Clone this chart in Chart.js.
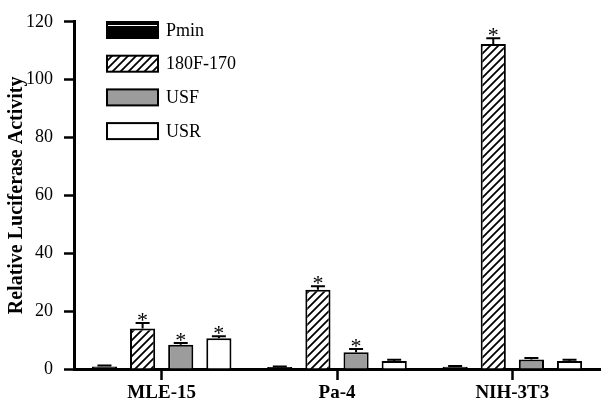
<!DOCTYPE html>
<html>
<head>
<meta charset="utf-8">
<script src="https://cdn.jsdelivr.net/npm/chart.js@4.4.1/dist/chart.umd.min.js"></script>
<style>
  html, body { margin: 0; padding: 0; background: #fff; }
  #wrap { width: 610px; height: 409px; position: relative; }
</style>
</head>
<body>
<div id="wrap"><canvas id="myChart"></canvas></div>
<script>
// Data
const categories = ['MLE-15', 'Pa-4', 'NIH-3T3'];
const seriesNames = ['Pmin', '180F-170', 'USF', 'USR'];

const pminValues = [0.9, 0.7, 0.8];
const pminErrors = [0.3, 0.2, 0.2];
const f180Values = [14.0, 27.4, 112.3];
const f180Errors = [1.9, 1.2, 2.0];
const usfValues = [8.4, 5.8, 3.3];
const usfErrors = [0.6, 1.1, 0.5];
const usrValues = [10.6, 2.8, 2.8];
const usrErrors = [0.7, 0.4, 0.4];

// which bars carry a significance star
const pminStars = [false, false, false];
const f180Stars = [true, true, true];
const usfStars = [true, true, false];
const usrStars = [true, false, false];

const yTicks = [0, 20, 40, 60, 80, 100, 120];

const serif = "'Liberation Serif', 'Times New Roman', serif";

// diagonal hatch for 180F-170
function makeHatch() {
    const c = document.createElement('canvas');
    c.width = 8; c.height = 8;
    const g = c.getContext('2d');
    g.fillStyle = '#fff';
    g.fillRect(0, 0, 8, 8);
    g.strokeStyle = '#000';
    g.lineWidth = 1.8;
    g.beginPath();
    g.moveTo(-1, 9); g.lineTo(9, -1);
    g.moveTo(-1, 1); g.lineTo(1, -1);
    g.moveTo(7, 9); g.lineTo(9, 7);
    g.stroke();
    return g.createPattern(c, 'repeat');
}

const ctx = document.getElementById('myChart').getContext('2d');
const hatch = makeHatch();

const errorSets = [pminErrors, f180Errors, usfErrors, usrErrors];
const starSets = [pminStars, f180Stars, usfStars, usrStars];

// error bars (upper only) and stars
const errorBarPlugin = {
    id: 'errorBars',
    afterDatasetsDraw(chart) {
        const c = chart.ctx;
        const yScale = chart.scales.y;
        c.save();
        chart.data.datasets.forEach((ds, di) => {
            const meta = chart.getDatasetMeta(di);
            meta.data.forEach((bar, i) => {
                const top = yScale.getPixelForValue(ds.data[i] + errorSets[di][i]);
                c.strokeStyle = '#000';
                c.lineWidth = 2;
                c.beginPath();
                c.moveTo(bar.x, bar.y);
                c.lineTo(bar.x, top);
                c.moveTo(bar.x - 7, top);
                c.lineTo(bar.x + 7, top);
                c.stroke();
                if (starSets[di][i]) {
                    c.fillStyle = '#000';
                    c.font = '22px ' + serif;
                    c.textAlign = 'center';
                    c.textBaseline = 'alphabetic';
                    c.fillText('*', bar.x, top + 4);
                }
            });
        });
        c.restore();
    }
};

// legend drawn inside the plot, top left
const legendPlugin = {
    id: 'insideLegend',
    afterDraw(chart) {
        const c = chart.ctx;
        c.save();
        chart.data.datasets.forEach((ds, i) => {
            const x = 107, y = 22 + i * 33.7, w = 51, h = 16;
            c.fillStyle = ds.backgroundColor;
            c.fillRect(x, y, w, h);
            c.strokeStyle = '#000';
            c.lineWidth = 2;
            c.strokeRect(x, y, w, h);
            if (i === 0) {
                c.strokeStyle = '#fff';
                c.lineWidth = 1;
                c.beginPath();
                c.moveTo(x + 1, y + 3.5);
                c.lineTo(x + w - 1, y + 3.5);
                c.stroke();
            }
            c.fillStyle = '#000';
            c.font = '18px ' + serif;
            c.textAlign = 'left';
            c.textBaseline = 'middle';
            c.fillText(ds.label, 166, y + h / 2 + 1);
        });
        c.restore();
    }
};

const myChart = new Chart(ctx, {
    type: 'bar',
    data: {
        labels: categories,
        datasets: [
            { label: seriesNames[0], data: pminValues, backgroundColor: '#000' },
            { label: seriesNames[1], data: f180Values, backgroundColor: hatch },
            { label: seriesNames[2], data: usfValues, backgroundColor: '#9c9c9c' },
            { label: seriesNames[3], data: usrValues, backgroundColor: '#fff' },
        ],
    },
    options: {
        responsive: true,
        maintainAspectRatio: false,
        animation: false,
        layout: { padding: { top: 20, right: 10, left: 0, bottom: 0 } },
        datasets: {
            bar: {
                borderColor: '#000',
                borderWidth: 2,
                borderSkipped: 'bottom',
                categoryPercentage: 0.87,
                barPercentage: 0.66,
            }
        },
        plugins: {
            legend: { display: false },
            tooltip: { enabled: false },
        },
        scales: {
            x: {
                offset: true,
                afterFit(scale) { scale.height = 40; },
                border: { display: true, color: '#000', width: 3 },
                grid: {
                    offset: false,
                    drawOnChartArea: false,
                    drawTicks: true,
                    tickLength: 11,
                    tickWidth: 2.5,
                    tickColor: '#000',
                },
                ticks: {
                    color: '#000',
                    padding: 2,
                    font: { family: serif, size: 19, weight: 'bold' },
                },
            },
            y: {
                min: 0,
                max: 120,
                afterFit(scale) { scale.width = 74; },
                afterBuildTicks(scale) { scale.ticks = yTicks.map(v => ({ value: v })); },
                border: { display: true, color: '#000', width: 3 },
                grid: {
                    drawOnChartArea: false,
                    drawTicks: true,
                    tickLength: 10,
                    tickWidth: 2.5,
                    tickColor: '#000',
                },
                ticks: {
                    color: '#000',
                    padding: 11,
                    font: { family: serif, size: 18 },
                },
                title: {
                    display: true,
                    text: 'Relative Luciferase Activity',
                    color: '#000',
                    padding: { top: 5, bottom: 0 },
                    font: { family: serif, size: 20, weight: 'bold' },
                },
            },
        },
    },
    plugins: [errorBarPlugin, legendPlugin],
});
</script>
</body>
</html>
